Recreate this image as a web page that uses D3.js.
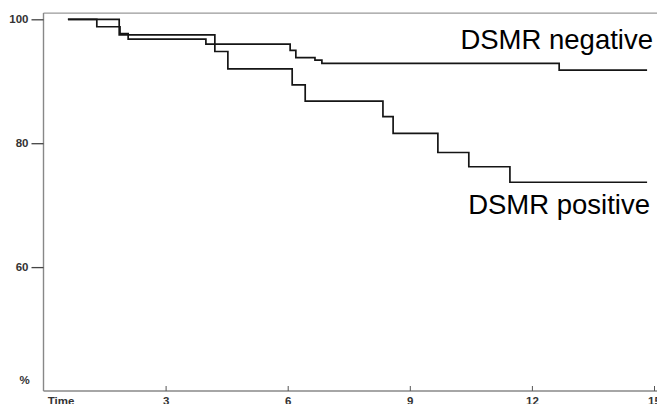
<!DOCTYPE html>
<html>
<head>
<meta charset="utf-8">
<script src="https://cdn.jsdelivr.net/npm/d3@7"></script>
<style>
  body { margin: 0; background: #fff; }
  .ax text { font-family: "Liberation Sans Narrow", "Arial Narrow", "Liberation Sans", sans-serif; font-weight: bold; font-size: 11.5px; fill: #333; }
</style>
</head>
<body>
<div id="chart"></div>
<script>
// survival curves (time, percent)
const negTime = [0.6, 1.31, 1.88, 2.08, 3.99, 6.06, 6.2, 6.67, 6.84, 12.67, 14.83];
const negSurv = [100, 98.8, 97.7, 96.8, 96.0, 95.0, 93.8, 93.4, 92.9, 91.8, 91.8];
const posTime = [0.6, 1.86, 4.21, 4.53, 6.11, 6.43, 8.34, 8.59, 9.69, 10.45, 11.46, 14.83];
const posSurv = [100, 97.5, 94.8, 92.0, 89.4, 86.8, 84.3, 81.6, 78.5, 76.2, 73.7, 73.7];
const xTicks = [3, 6, 9, 12, 15];
const yTicks = [60, 80, 100];

const width = 657, height = 404;

let svg = d3.select('#chart')
            .append('svg')
            .attr('width', width)
            .attr('height', height);

let x = d3.scaleLinear()
          .domain([0, 15])
          .range([43.5, 654]);

let y = d3.scaleLinear()
          .domain([40, 100])
          .range([391, 19.3]);

// frame top line
svg.append('line')
   .attr('x1', x(0)).attr('x2', width)
   .attr('y1', y(101)).attr('y2', y(101))
   .attr('stroke', '#999')
   .attr('stroke-width', 1.2);

// x axis, ticks pointing inwards
let xAx = svg.append('g')
   .attr('class', 'ax')
   .attr('transform', 'translate(0,' + y(40) + ')')
   .call(d3.axisBottom(x).tickValues(xTicks).tickSizeInner(-5).tickSizeOuter(0).tickPadding(5.5));
xAx.select('.domain').attr('stroke', '#888').attr('stroke-width', 1.4).attr('d', 'M' + x(0) + ',0H' + width);
xAx.selectAll('.tick line').attr('stroke', '#555');

xAx.append('text')
   .attr('x', 61).attr('y', 5.5)
   .attr('dy', '0.71em')
   .attr('text-anchor', 'middle')
   .text('Time');

// y axis
let yAx = svg.append('g')
   .attr('class', 'ax')
   .attr('transform', 'translate(' + x(0) + ',0)')
   .call(d3.axisLeft(y).tickValues(yTicks).tickSizeInner(12).tickSizeOuter(0).tickPadding(3));
yAx.select('.domain').attr('stroke', '#888').attr('stroke-width', 1.4).attr('d', 'M0,' + y(101) + 'V' + y(40));
yAx.selectAll('.tick line').attr('stroke', '#444').attr('stroke-width', 1.3);

yAx.append('text')
   .attr('x', -19).attr('y', 380)
   .attr('dy', '0.32em')
   .attr('text-anchor', 'middle')
   .text('%');

let line = d3.line()
             .x(d => x(d.t))
             .y(d => y(d.s))
             .curve(d3.curveStepAfter);

let neg = negTime.map((t, i) => ({t: t, s: negSurv[i]}));
let pos = posTime.map((t, i) => ({t: t, s: posSurv[i]}));

[neg, pos].forEach(series => {
  svg.append('path')
     .datum(series)
     .attr('fill', 'none')
     .attr('stroke', '#151515')
     .attr('stroke-width', 1.7)
     .attr('d', line);
});

// curve labels
svg.append('text')
   .attr('x', 653).attr('y', 49)
   .attr('text-anchor', 'end')
   .attr('font-family', '"Liberation Sans", Arial, sans-serif')
   .attr('font-size', 27.5)
   .attr('fill', '#000')
   .text('DSMR negative');

svg.append('text')
   .attr('x', 650).attr('y', 214)
   .attr('text-anchor', 'end')
   .attr('font-family', '"Liberation Sans", Arial, sans-serif')
   .attr('font-size', 27.5)
   .attr('fill', '#000')
   .text('DSMR positive');
</script>
</body>
</html>
